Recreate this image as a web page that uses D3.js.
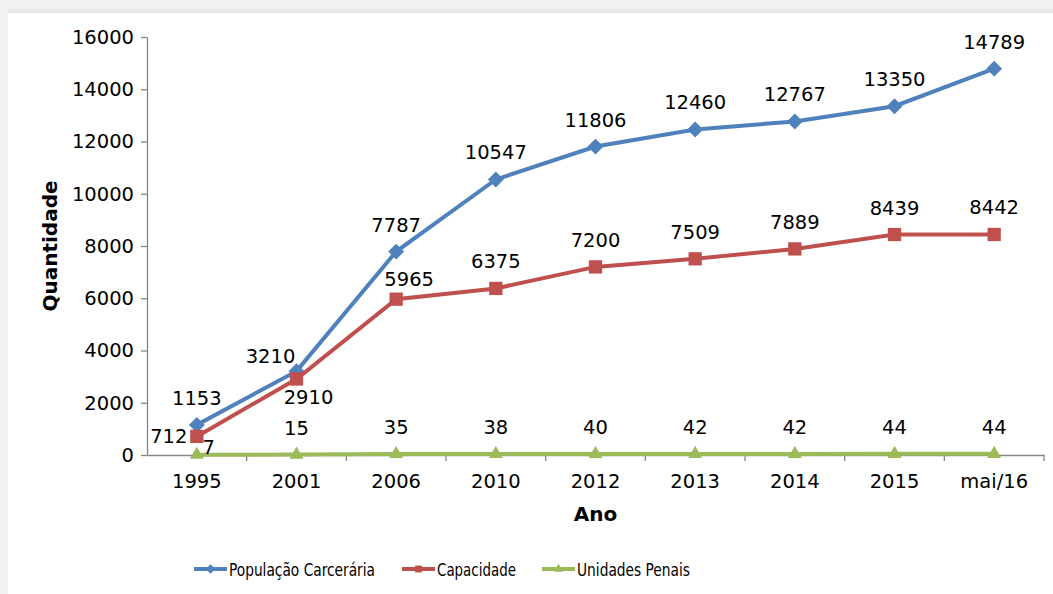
<!DOCTYPE html>
<html>
<head>
<meta charset="utf-8">
<script src="https://cdn.jsdelivr.net/npm/d3@7"></script>
<style>
  body { margin: 0; background: #fff; }
  svg { display: block; }
</style>
</head>
<body>
<svg id="canvas"></svg>
<script>
// data
let categories = ["1995", "2001", "2006", "2010", "2012", "2013", "2014", "2015", "mai/16"];
let populacao = [1153, 3210, 7787, 10547, 11806, 12460, 12767, 13350, 14789];
let capacidade = [712, 2910, 5965, 6375, 7200, 7509, 7889, 8439, 8442];
let unidades = [7, 15, 35, 38, 40, 42, 42, 44, 44];
let yTicks = [0, 2000, 4000, 6000, 8000, 10000, 12000, 14000, 16000];

let seriesNames = ["População Carcerária", "Capacidade", "Unidades Penais"];
let colors = ["#4f81bd", "#c0504d", "#9bbb59"];

// label nudges where the labels were moved off the default spot (index -> [dx, dy])
let labelNudge = [
    {1: [-26, 12]},
    {0: [-28, 27], 1: [12, 45], 2: [13, 7]},
    {0: [12, 19]}
];

let width = 1053;
let height = 594;
let plotLeft = 147, plotRight = 1044, plotTop = 37, plotBottom = 455;
let font = "'DejaVu Sans', Verdana, sans-serif";
let fontSize = "19.5px";

let canvas = d3.select("#canvas")
    .attr("width", width)
    .attr("height", height);

// light frame around the chart
canvas.append("rect").attr("width", width).attr("height", height).attr("fill", "#f2f2f2");
canvas.append("rect").attr("x", 8).attr("y", 9).attr("width", width).attr("height", 4).attr("fill", "#e8e8e8");
canvas.append("rect").attr("x", 8).attr("y", 13).attr("width", width).attr("height", height).attr("fill", "#ffffff");

let xScale = d3.scaleBand()
    .domain(categories)
    .range([plotLeft, plotRight]);

let yScale = d3.scaleLinear()
    .domain([0, 16000])
    .range([plotBottom, plotTop]);

let cx = (i) => xScale(categories[i]) + xScale.bandwidth() / 2;

// y axis
let yAxis = d3.axisLeft(yScale)
    .tickValues(yTicks)
    .tickSize(6)
    .tickSizeOuter(0)
    .tickPadding(7)
    .tickFormat(d3.format("d"));

let gy = canvas.append("g")
    .attr("transform", "translate(" + plotLeft + ",0)")
    .call(yAxis);
gy.selectAll("path, line").attr("stroke", "#868686").attr("stroke-width", 1.3);
gy.selectAll("text").attr("font-family", font).attr("font-size", fontSize).attr("fill", "#000");

// x axis: ticks on band edges
let xAxis = d3.axisBottom(xScale).tickSize(0).tickPadding(19);
let gx = canvas.append("g")
    .attr("transform", "translate(0," + plotBottom + ")")
    .call(xAxis);
gx.select("path").attr("stroke", "#868686").attr("stroke-width", 1.3);
gx.selectAll("text").attr("font-family", font).attr("font-size", fontSize).attr("fill", "#000");
gx.selectAll(".edge")
    .data(categories)
    .enter()
    .append("line")
    .attr("x1", (d) => xScale(d) + xScale.bandwidth())
    .attr("x2", (d) => xScale(d) + xScale.bandwidth())
    .attr("y1", 0)
    .attr("y2", 6)
    .attr("stroke", "#868686")
    .attr("stroke-width", 1.3);

// axis titles
canvas.append("text")
    .text("Quantidade")
    .attr("transform", "translate(57," + ((plotTop + plotBottom) / 2) + ") rotate(-90)")
    .attr("text-anchor", "middle")
    .attr("font-family", font)
    .attr("font-weight", "bold")
    .attr("font-size", "20px");

canvas.append("text")
    .text("Ano")
    .attr("x", (plotLeft + plotRight) / 2)
    .attr("y", 521)
    .attr("text-anchor", "middle")
    .attr("font-family", font)
    .attr("font-weight", "bold")
    .attr("font-size", "20px");

let allSeries = [populacao, capacidade, unidades];

let line = d3.line()
    .x((d, i) => cx(i))
    .y((d) => yScale(d));

let shapes = [d3.symbolDiamond2, d3.symbolSquare2, d3.symbolTriangle2];
let shapeSizes = [160, 225, 140];

allSeries.forEach((values, s) => {
    canvas.append("path")
        .datum(values)
        .attr("d", line)
        .attr("fill", "none")
        .attr("stroke", colors[s])
        .attr("stroke-width", 4);

    canvas.selectAll(".m" + s)
        .data(values)
        .enter()
        .append("path")
        .attr("d", d3.symbol().type(shapes[s]).size(shapeSizes[s]))
        .attr("transform", (d, i) => "translate(" + cx(i) + "," + yScale(d) + ")")
        .attr("fill", colors[s]);
});

// data labels
allSeries.forEach((values, s) => {
    canvas.selectAll(".l" + s)
        .data(values)
        .enter()
        .append("text")
        .text((d) => d)
        .attr("x", (d, i) => cx(i) + (labelNudge[s][i] ? labelNudge[s][i][0] : 0))
        .attr("y", (d, i) => yScale(d) - 20 + (labelNudge[s][i] ? labelNudge[s][i][1] : 0))
        .attr("text-anchor", "middle")
        .attr("font-family", font)
        .attr("font-size", fontSize)
        .attr("fill", "#000");
});

// legend (narrow lettering, squeezed to the widths seen in the original)
let legendX = [194, 402, 542];
let legendTextWidth = [146, 79, 113];
let legend = canvas.append("g").attr("transform", "translate(0,569)");
seriesNames.forEach((name, s) => {
    legend.append("line")
        .attr("x1", legendX[s])
        .attr("x2", legendX[s] + 33)
        .attr("y1", 0)
        .attr("y2", 0)
        .attr("stroke", colors[s])
        .attr("stroke-width", 4);
    legend.append("path")
        .attr("d", d3.symbol().type(shapes[s]).size(60))
        .attr("transform", "translate(" + (legendX[s] + 16.5) + ",0)")
        .attr("fill", colors[s]);
    legend.append("text")
        .text(name)
        .attr("x", legendX[s] + 35)
        .attr("y", 7)
        .attr("textLength", legendTextWidth[s])
        .attr("lengthAdjust", "spacingAndGlyphs")
        .attr("font-family", "'DejaVu Sans Condensed', 'DejaVu Sans', sans-serif")
        .attr("font-size", "18px")
        .attr("fill", "#000");
});
</script>
</body>
</html>
